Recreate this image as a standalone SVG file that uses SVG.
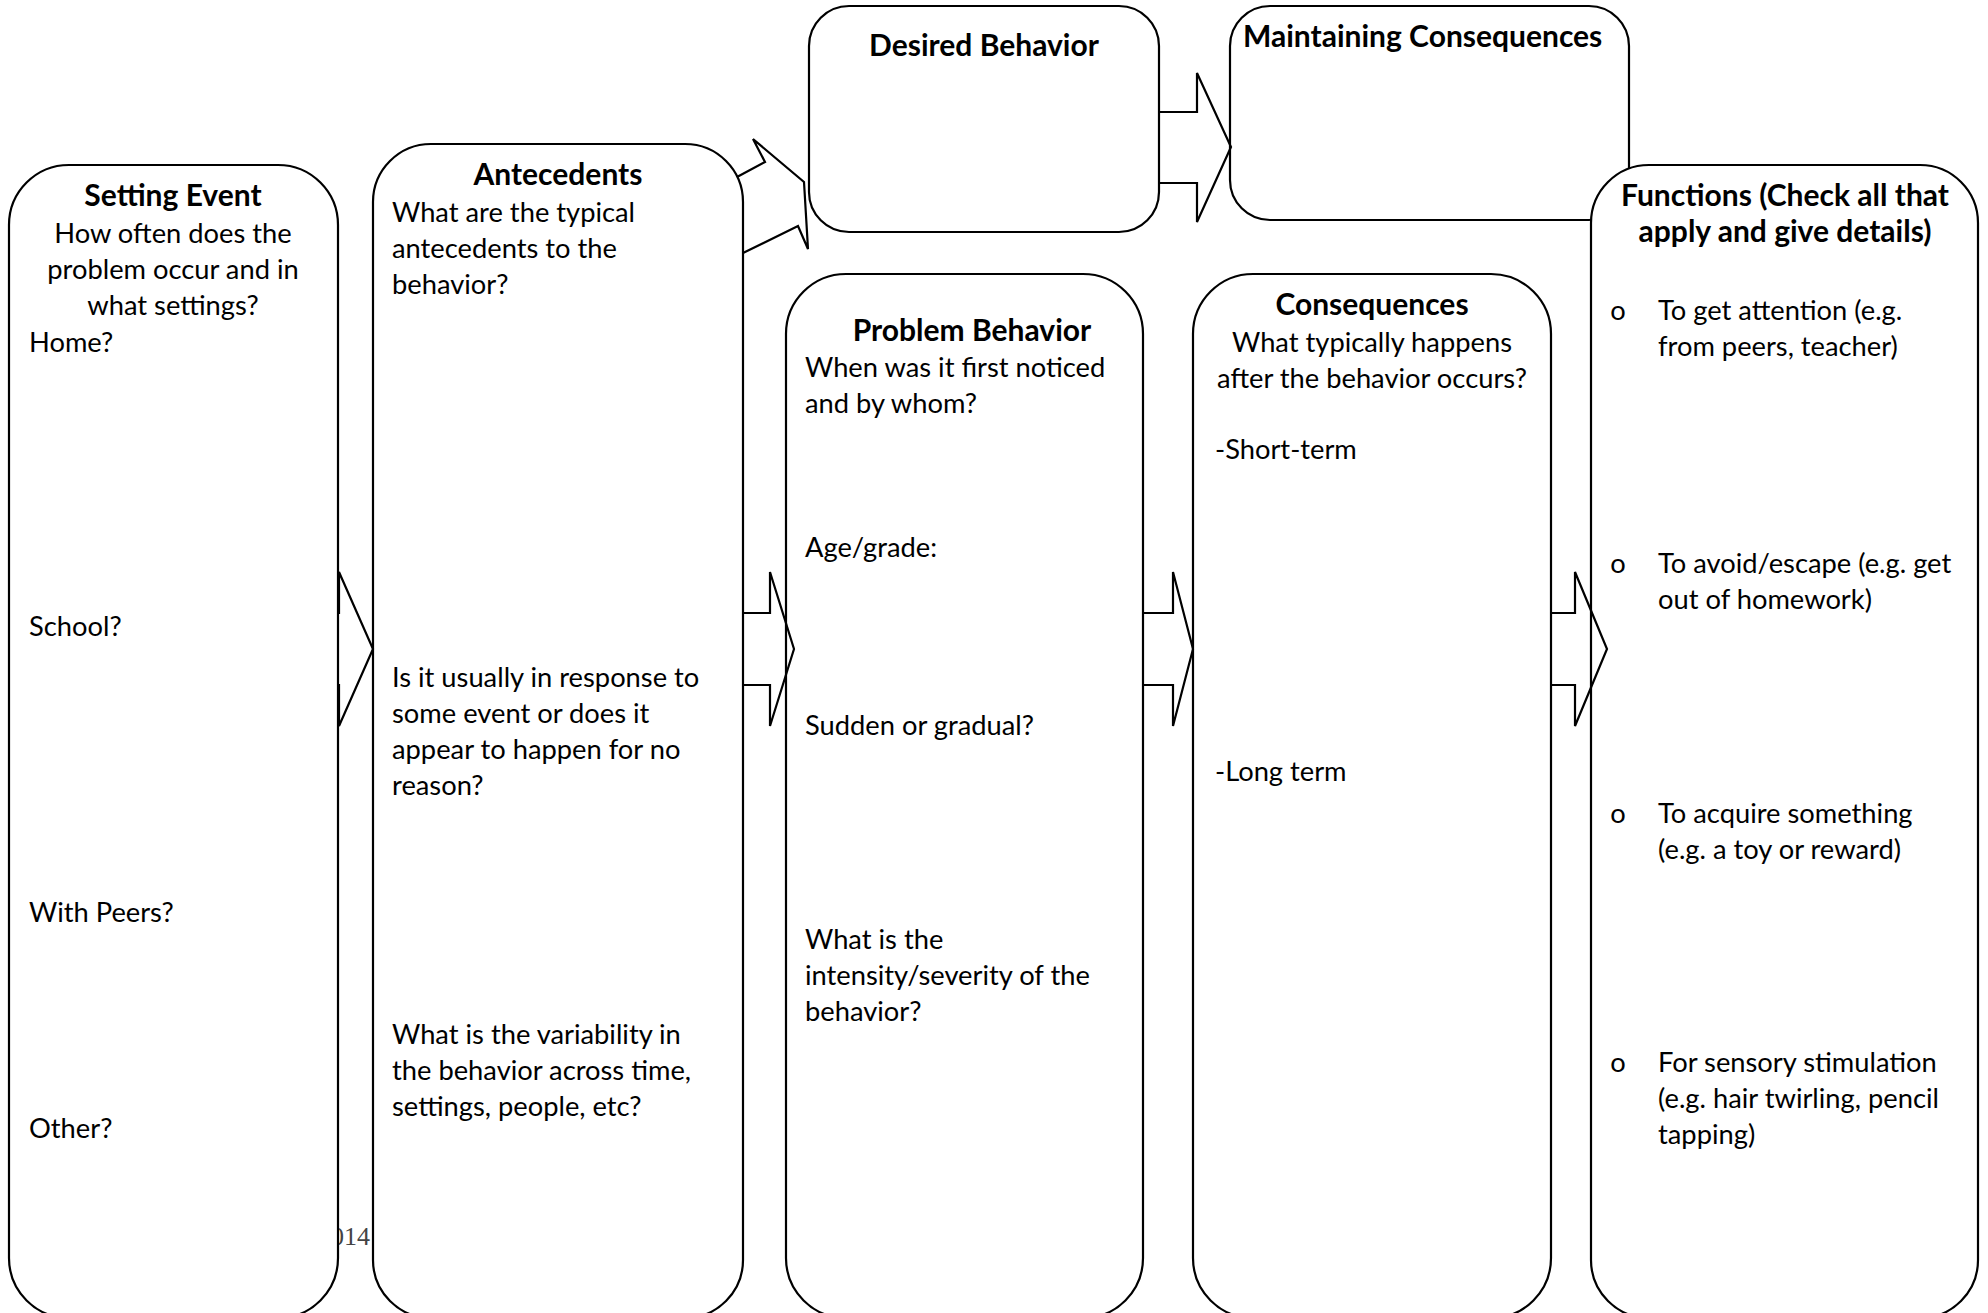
<svg xmlns="http://www.w3.org/2000/svg" width="1988" height="1313" viewBox="0 0 1988 1313">
<style>
.box{fill:#fff;stroke:#000;stroke-width:2.2}
.arr{fill:none;stroke:#000;stroke-width:2.2;stroke-linejoin:miter}
text{font-family:Lato,"Liberation Sans",sans-serif;font-size:27.3px;fill:#000}
.h{font-weight:bold;font-size:30px}
.c{text-anchor:middle}
.yr{font-family:"Liberation Serif",serif;font-size:26px;fill:#444;text-anchor:end}
</style>
<rect width="1988" height="1313" fill="#fff"/>
<text class="yr" x="370" y="1245">014</text>
<g id="setting-event">
<rect class="box" x="9" y="165" width="329" height="1153" rx="60" ry="60"/>
<text class="h c" x="173" y="206">Setting Event</text>
<text class="c" x="173" y="243">How often does the</text>
<text class="c" x="173" y="279">problem occur and in</text>
<text class="c" x="173" y="315">what settings?</text>
<text x="29" y="352">Home?</text>
<text x="29" y="636">School?</text>
<text x="29" y="922">With Peers?</text>
<text x="29" y="1138">Other?</text>
</g>
<g id="antecedents">
<rect class="box" x="373" y="144" width="370" height="1174" rx="58" ry="58"/>
<text class="h c" x="558" y="185">Antecedents</text>
<text x="392" y="222">What are the typical</text>
<text x="392" y="258">antecedents to the</text>
<text x="392" y="294">behavior?</text>
<text x="392" y="687">Is it usually in response to</text>
<text x="392" y="723">some event or does it</text>
<text x="392" y="759">appear to happen for no</text>
<text x="392" y="795">reason?</text>
<text x="392" y="1044">What is the variability in</text>
<text x="392" y="1080">the behavior across time,</text>
<text x="392" y="1116">settings, people, etc?</text>
</g>
<g id="desired-behavior">
<rect class="box" x="809" y="6" width="350" height="226" rx="40" ry="40"/>
<text class="h c" x="984" y="56">Desired Behavior</text>
</g>
<g id="maintaining-consequences">
<rect class="box" x="1230" y="6" width="399" height="214" rx="40" ry="40"/>
<text class="h" x="1243" y="47">Maintaining Consequences</text>
</g>
<g id="problem-behavior">
<rect class="box" x="786" y="274" width="357" height="1044" rx="60" ry="60"/>
<text class="h c" x="972" y="341">Problem Behavior</text>
<text x="805" y="377">When was it first noticed</text>
<text x="805" y="413">and by whom?</text>
<text x="805" y="557">Age/grade:</text>
<text x="805" y="735">Sudden or gradual?</text>
<text x="805" y="949">What is the</text>
<text x="805" y="985">intensity/severity of the</text>
<text x="805" y="1021">behavior?</text>
</g>
<g id="consequences">
<rect class="box" x="1193" y="274" width="358" height="1044" rx="60" ry="60"/>
<text class="h c" x="1372" y="315">Consequences</text>
<text class="c" x="1372" y="352">What typically happens</text>
<text class="c" x="1372" y="388">after the behavior occurs?</text>
<text x="1215" y="459">-Short-term</text>
<text x="1215" y="781">-Long term</text>
</g>
<g id="functions">
<rect class="box" x="1591" y="165" width="387" height="1153" rx="58" ry="58"/>
<text class="h c" x="1785" y="206">Functions (Check all that</text>
<text class="h c" x="1785" y="242">apply and give details)</text>
<text class="c" x="1618" y="320">o</text>
<text x="1658" y="320">To get attention (e.g.</text>
<text x="1658" y="356">from peers, teacher)</text>
<text class="c" x="1618" y="573">o</text>
<text x="1658" y="573">To avoid/escape (e.g. get</text>
<text x="1658" y="609">out of homework)</text>
<text class="c" x="1618" y="823">o</text>
<text x="1658" y="823">To acquire something</text>
<text x="1658" y="859">(e.g. a toy or reward)</text>
<text class="c" x="1618" y="1072">o</text>
<text x="1658" y="1072">For sensory stimulation</text>
<text x="1658" y="1108">(e.g. hair twirling, pencil</text>
<text x="1658" y="1144">tapping)</text>
</g>
<g id="connectors">
<polyline class="arr" points="337,613 339,613 339,572 373,649 339,726 339,685 337,685"/>
<polyline class="arr" points="743,613 770,613 770,572 794,649 770,726 770,685 743,685"/>
<polyline class="arr" points="1143,613 1173,613 1173,572 1193,649 1173,726 1173,685 1143,685"/>
<polyline class="arr" points="1551,613 1575,613 1575,572 1607,649 1575,726 1575,685 1551,685"/>
<polyline class="arr" points="1159,112 1197,112 1197,73 1231,147 1197,222 1197,183 1159,183"/>
<polyline class="arr" points="737,177 765,162 753,139 804,182 808,249 798,226 743,253"/>
</g>
</svg>
